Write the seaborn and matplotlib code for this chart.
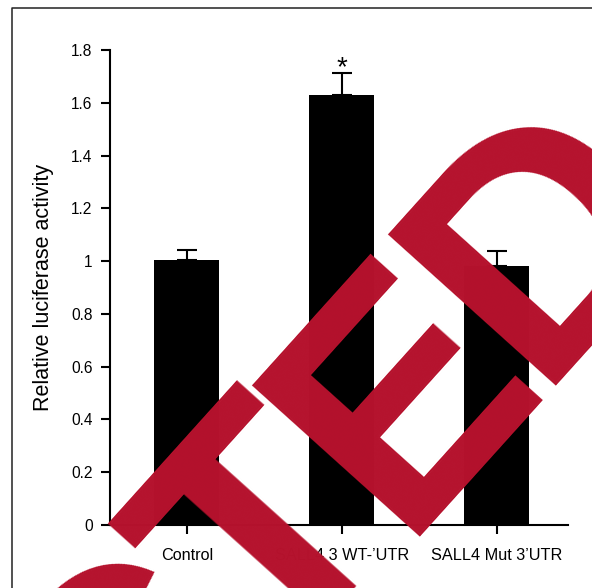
import numpy as np
import matplotlib
matplotlib.use("Agg")
import matplotlib.pyplot as plt
from matplotlib.lines import Line2D
import seaborn as sns

# Luciferase reporter assay: mean relative activity and upper error
categories = ["Control", "SALL4 3 WT-\u2019UTR", "SALL4 Mut 3\u2019UTR"]
activity = [1.005, 1.628, 0.981]
error_up = [0.037, 0.084, 0.056]
significance = ["", "*", ""]
y_ticks = [0, 0.2, 0.4, 0.6, 0.8, 1.0, 1.2, 1.4, 1.6, 1.8]
y_tick_labels = ["0", "0.2", "0.4", "0.6", "0.8", "1", "1.2", "1.4", "1.6", "1.8"]
y_label = "Relative luciferase activity"
stamp = "RETRACTED"

sns.set_style("ticks")
plt.rcParams["font.family"] = ["Liberation Sans", "DejaVu Sans"]

W, H = 592, 588
fig = plt.figure(figsize=(W / 100, H / 100), dpi=100)
ax = fig.add_axes([110 / W, 1 - 525 / H, (568 - 110) / W, (525 - 50) / H])

sns.barplot(x=categories, y=activity, color="black", saturation=1,
            width=0.42, linewidth=0, errorbar=None, ax=ax)

xpos = ax.get_xticks()
ax.errorbar(xpos, activity, yerr=[np.zeros(len(activity)), error_up],
            fmt="none", ecolor="black", elinewidth=1.5, capsize=7.5,
            capthick=1.5, zorder=3)

for x, top, err, mark in zip(xpos, activity, error_up, significance):
    if mark:
        ax.annotate(mark, xy=(x, top + err), xytext=(0, -1.2),
                    textcoords="offset points", ha="center", va="baseline",
                    fontsize=20, color="black")

ax.set_xlim(-0.496, 2.461)
ax.set_ylim(0, 1.8)
ax.set_yticks(y_ticks, labels=y_tick_labels)
sns.despine(ax=ax)
for side in ("left", "bottom"):
    ax.spines[side].set_linewidth(1.5)
    ax.spines[side].set_color("black")
ax.tick_params(axis="both", width=1.5, length=6.5, direction="out",
               color="black", labelcolor="black")
ax.tick_params(axis="y", labelsize=11.2, pad=6)
ax.tick_params(axis="x", labelsize=11.7, pad=10)
ax.set_ylabel(y_label, fontsize=15.5, labelpad=12, color="black")
ax.set_xlabel("")

# panel frame
fig.add_artist(Line2D([12 / W, 12 / W, 1.02], [-0.02, 1 - 8 / H, 1 - 8 / H],
                      transform=fig.transFigure, color="#222222", lw=1.1))

# diagonal stamp, letters laid out along a rotated baseline
advance = {"R": 0.722, "E": 0.667, "T": 0.611, "A": 0.722, "C": 0.722, "D": 0.722}
angle = 48
theta = np.deg2rad(angle)
ux, uy = np.cos(theta), np.sin(theta)
em_step = 306.0
ref_index = 7
ref_x, ref_y = 471.0, H - 456.0
widths = np.array([advance[c] for c in stamp])
centers = np.cumsum(widths) - widths / 2
for i, ch in enumerate(stamp):
    d = (centers[i] - centers[ref_index]) * em_step
    px, py = ref_x + d * ux, ref_y + d * uy
    fig.text(px / W, py / H, ch, rotation=angle, rotation_mode="anchor",
             ha="center", va="baseline", fontsize=236, fontweight="bold",
             color="#B5122D", zorder=5)

fig.savefig("out.png", dpi=100)
